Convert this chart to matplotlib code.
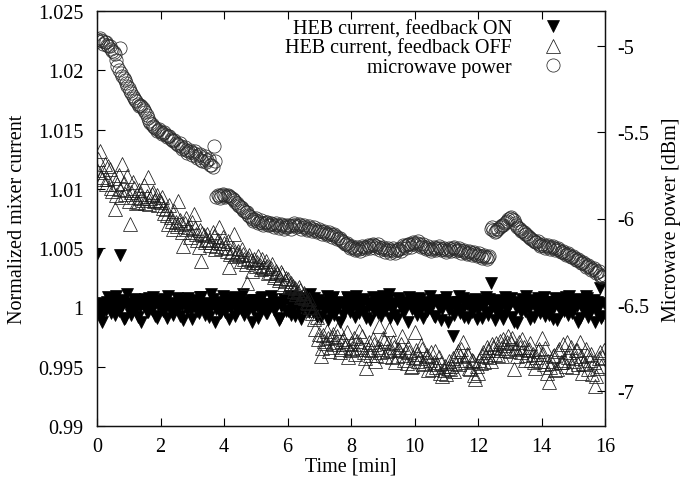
import numpy as np
import matplotlib
matplotlib.use("Agg")
import matplotlib.pyplot as plt
from matplotlib.lines import Line2D
from matplotlib.ticker import FixedLocator, FuncFormatter

plt.rcParams['font.family'] = ['Liberation Serif', 'DejaVu Serif']
plt.rcParams['axes.unicode_minus'] = False

# ---------------- data ----------------
x_ticks = [0, 2, 4, 6, 8, 10, 12, 14, 16]
y_ticks = [0.99, 0.995, 1.0, 1.005, 1.01, 1.015, 1.02, 1.025]
y2_ticks = [-7.0, -6.5, -6.0, -5.5, -5.0]

sample_step_min = 0.04

# HEB current, feedback ON  (deviation from 1, in units of 1e-4)
on_dev = [45, 2, -3, -8, -12, 4, 2, -2, 5, 9, -1, -5, 8, 1, -6, 10, 3, -3, 44, 6, 1, -10, -9, 3, 11, 0, 4, -6, -2, 7, 6, -1, -8, 5, 0, -12, 3, 2, 7, -4, -4, 8, 1, -2, 9, 4, -7, -9, 2, 6,
          5, -1, -3, 7, 0, -9, 10, 3, 4, -4, -6, 1, 2, 8, -1, -7, 6, 2, -11, 5, 3, -2, 8, 0, -2, -10, 1, 6, 4, -3, -5, 9, 9, 1, 0, -6, 2, 4, -8, -1, 11, 7, 3, -12, -1, 2, 5, -5, -4, 10,
          1, -4, 7, 3, -10, 0, 2, 9, 4, -7, -3, 5, 8, -1, 0, 11, -6, 2, 5, -3, 2, 6, -12, -2, 6, 4, 1, -9, -2, 8, 9, 0, 3, -5, -5, 3, 0, 10, 7, -2, -1, 5, 4, -11, -9, 1, 2, 7, 6, -3,
          -3, 4, 10, -6, 1, 2, -7, 9, 3, -1, 5, -10, -2, 6, 8, 0, 0, -4, 11, 3, -4, 8, 2, -8, 6, 1, -8, 5, 1, -2, 4, 10, -11, -3, 3, 7, 9, -6, -2, 2, 0, -12, 5, 4, -6, -1, 2, 9, 7, -4,
          -1, 6, 4, -8, 10, 2, -5, 0, 2, 7, 6, -3, -9, 4, 1, -11, 3, 9, -3, 1, 8, -5, 0, 3, -7, 10, 5, -2, 2, 6, 11, -9, -2, 1, 4, -6, -10, 8, 6, 0, 1, -3, -4, 5, 3, -12, 9, 2, -1, 7,
          2, -3, -6, 8, 7, 1, 0, -9, 4, 5, -3, -1, 10, 3, 1, -7, -8, 6, 5, 0, 2, -11, -1, 4, 6, 9, -12, -2, 3, 5, -24, -6, 0, 2, 5, 10, -5, -1, 8, -8, 2, 3, -9, 6, 4, -4, 1, 0, 7, -10,
          -2, 6, 5, -9, 0, 2, 9, -4, -6, 7, 21, 1, 3, -11, -3, 5, 6, 0, 1, -6, -10, 9, 4, -2, 2, 3, 8, -8, -12, 4, 0, -13, 5, 1, -4, 7, 3, -3, 10, 2, -1, -10, 6, 5, -8, 0, 2, 8, 4, -5,
          -2, 3, 9, -7, 1, 5, -6, 0, 5, -10, 0, 8, -11, 2, 3, -4, 7, 1, -3, 9, 2, -6, 10, 4, -5, -1, 4, 7, 1, -12, -9, 3, 6, -2, 0, 10, 8, -8, -4, 2, 3, 6, -12, -3, 5, 0, 16, -9, -7, 4]

# HEB current, feedback OFF (deviation from 1, in units of 1e-4)
off_dev = [116, 125, 132, 110, 108, 114, 121, 104, 108, 119, 117, 101, 98, 109, 83, 95, 104, 112, 100, 93, 121, 105, 96, 99, 111, 90, 70, 97, 106, 101, 93, 88, 89, 99, 96, 92, 91, 103, 88, 94, 110, 87, 92, 96, 97, 90, 91, 95, 86, 91,
           89, 93, 84, 80, 83, 78, 70, 86, 76, 73, 66, 81, 72, 69, 90, 74, 70, 64, 52, 71, 75, 66, 68, 59, 64, 72, 79, 67, 62, 57, 51, 65, 39, 63, 61, 55, 58, 62, 57, 53, 55, 64, 60, 49, 52, 57, 68, 54, 50, 59,
           54, 51, 48, 56, 34, 45, 47, 50, 62, 43, 46, 48, 44, 39, 49, 45, 41, 37, 21, 42, 44, 40, 31, 38, 41, 35, 38, 43, 36, 32, 41, 34, 33, 39, 35, 29, 30, 33, 37, 26, 27, 31, 29, 23, 25, 30, 28, 20, 22, 25,
           24, 17, 19, 21, 18, 14, 16, 11, 13, 17, 15, 9, 10, 12, 8, 5, 4, 7, 0, -5, -2, -10, -18, -8, -27, -22, -41, -34, -23, -28, -30, -20, -26, -37, -33, -25, -22, -31, -29, -24, -17, -38, -35, -28, -27, -33, -31, -21, -42, -36,
           -30, -34, -26, -39, -35, -28, -20, -31, -33, -24, -38, -43, -51, -35, -29, -40, -36, -27, -31, -45, -40, -33, -16, -38, -35, -26, -28, -41, -37, -30, -18, -36, -42, -29, -33, -46, -41, -35, -36, -31, -24, -40, -44, -37, -47, -33, -38, -50, -49, -42,
           -21, -36, -39, -45, -43, -32, -35, -48, -47, -41, -40, -53, -44, -38, -52, -46, -37, -50, -48, -42, -55, -47, -58, -53, -49, -56, -51, -45, -52, -49, -43, -54, -47, -40, -37, -48, -41, -35, -29, -44, -46, -39, -40, -51, -52, -44, -45, -57, -60, -49,
           -55, -44, -47, -40, -38, -46, -41, -33, -36, -42, -45, -31, -33, -39, -30, -36, -40, -28, -34, -41, -27, -32, -36, -29, -24, -37, -30, -26, -52, -34, -35, -41, -29, -33, -38, -27, -33, -44, -40, -36, -35, -30, -44, -39, -46, -51, -42, -37, -35, -45,
           -26, -39, -48, -34, -55, -45, -63, -50, -47, -41, -40, -53, -52, -37, -35, -46, -46, -31, -44, -49, -29, -42, -38, -33, -50, -45, -43, -36, -36, -48, -29, -41, -55, -47, -48, -35, -40, -52, -44, -39, -56, -46, -66, -58, -51, -43, -38, -49, -42, -36]

# microwave power [dBm], three stretches separated by level jumps
power_seg1 = [-4.960, -4.972, -4.958, -4.966, -4.975, -4.990, -4.982, -4.978, -4.995, -5.002, -5.005, -5.018, -5.030, -5.036, -5.050, -5.085, -5.120, -5.140, -5.012, -5.160,
              -5.175, -5.190, -5.200, -5.215, -5.235, -5.248, -5.265, -5.272, -5.290, -5.305, -5.315, -5.322, -5.335, -5.348, -5.345, -5.352, -5.360, -5.372, -5.385, -5.400,
              -5.420, -5.438, -5.450, -5.455, -5.465, -5.470, -5.478, -5.492, -5.488, -5.480, -5.497, -5.512, -5.505, -5.500, -5.518, -5.530, -5.525, -5.522, -5.540, -5.548,
              -5.550, -5.545, -5.562, -5.570, -5.575, -5.565, -5.583, -5.598, -5.595, -5.588, -5.605, -5.620, -5.610, -5.602, -5.618, -5.630, -5.622, -5.612, -5.640, -5.652,
              -5.632, -5.625, -5.660, -5.668, -5.648, -5.640, -5.672, -5.660, -5.655, -5.688, -5.690, -5.700, -5.578, -5.665]
power_seg2 = [-5.875, -5.862, -5.870, -5.880, -5.862, -5.858, -5.866, -5.878, -5.872, -5.864, -5.868, -5.876, -5.880, -5.888, -5.895, -5.905, -5.912, -5.920, -5.925, -5.935,
              -5.940, -5.948, -5.955, -5.962, -5.965, -5.978, -5.985, -5.992, -6.000, -6.012, -6.005, -5.998, -6.012, -6.025, -6.018, -6.010, -6.024, -6.038, -6.028, -6.018,
              -6.022, -6.040, -6.035, -6.028, -6.030, -6.048, -6.040, -6.025, -6.036, -6.055, -6.045, -6.032, -6.040, -6.058, -6.048, -6.035, -6.052, -6.040, -6.045, -6.060,
              -6.038, -6.025, -6.036, -6.052, -6.042, -6.030, -6.040, -6.058, -6.048, -6.036, -6.052, -6.065, -6.058, -6.045, -6.055, -6.070, -6.062, -6.052, -6.068, -6.080,
              -6.072, -6.060, -6.075, -6.090, -6.080, -6.070, -6.084, -6.098, -6.088, -6.078, -6.092, -6.105, -6.095, -6.088, -6.102, -6.118, -6.110, -6.115, -6.122, -6.130,
              -6.135, -6.148, -6.145, -6.140, -6.155, -6.168, -6.165, -6.158, -6.172, -6.185, -6.178, -6.165, -6.175, -6.190, -6.170, -6.160, -6.166, -6.178, -6.165, -6.152,
              -6.160, -6.172, -6.156, -6.145, -6.155, -6.168, -6.158, -6.148, -6.165, -6.180, -6.172, -6.162, -6.178, -6.192, -6.180, -6.170, -6.184, -6.198, -6.185, -6.172,
              -6.190, -6.200, -6.185, -6.175, -6.178, -6.190, -6.168, -6.155, -6.160, -6.172, -6.155, -6.145, -6.150, -6.162, -6.145, -6.135, -6.140, -6.152, -6.142, -6.130,
              -6.150, -6.162, -6.158, -6.148, -6.165, -6.178, -6.172, -6.160, -6.178, -6.190, -6.175, -6.165, -6.170, -6.182, -6.168, -6.158, -6.172, -6.185, -6.178, -6.168,
              -6.182, -6.195, -6.180, -6.170, -6.176, -6.188, -6.172, -6.162, -6.175, -6.188, -6.180, -6.170, -6.185, -6.198, -6.190, -6.182, -6.195, -6.208, -6.198, -6.188,
              -6.196, -6.210, -6.200, -6.192, -6.205, -6.215, -6.210, -6.200, -6.215, -6.228, -6.218, -6.210, -6.222, -6.235, -6.225, -6.218]
power_seg3 = [-6.062, -6.050, -6.065, -6.078, -6.070, -6.062, -6.060, -6.052, -6.045, -6.040, -6.035, -6.028, -6.022, -6.015, -6.005, -5.995, -5.993, -6.000, -6.010, -6.025,
              -6.040, -6.048, -6.055, -6.062, -6.070, -6.075, -6.080, -6.088, -6.092, -6.100, -6.105, -6.112, -6.118, -6.122, -6.128, -6.135, -6.138, -6.130, -6.145, -6.158,
              -6.152, -6.145, -6.157, -6.168, -6.160, -6.152, -6.163, -6.175, -6.166, -6.158, -6.170, -6.182, -6.178, -6.172, -6.185, -6.195, -6.192, -6.188, -6.198, -6.210,
              -6.205, -6.198, -6.212, -6.225, -6.220, -6.215, -6.228, -6.240, -6.238, -6.232, -6.248, -6.260, -6.258, -6.252, -6.266, -6.280, -6.275, -6.270, -6.283, -6.298,
              -6.290, -6.285, -6.300, -6.318, -6.312, -6.305, -6.325, -6.340, -6.335, -6.328]

labels = ["HEB current, feedback ON", "HEB current, feedback OFF", "microwave power"]

# ---------------- derived arrays ----------------
feedback_on = 1.0 + np.array(on_dev) * 1e-4
feedback_off = 1.0 + np.array(off_dev) * 1e-4
power = np.array(power_seg1 + power_seg2 + power_seg3)
t_on = np.arange(len(feedback_on)) * sample_step_min
t_off = np.arange(len(feedback_off)) * sample_step_min
t_pow = np.arange(len(power)) * sample_step_min

# ---------------- figure ----------------
W, H = 681, 485
fig = plt.figure(figsize=(W / 100, H / 100), dpi=100)
L, R, T, B = 97, 605, 12, 427
ax = fig.add_axes([L / W, 1 - B / H, (R - L) / W, (B - T) / H])
ax2 = ax.twinx()

FS = 14.5
ON_KW = dict(linestyle='none', marker='v', markersize=8.5, color='black',
             markeredgecolor='black', markeredgewidth=0.5)
OFF_KW = dict(linestyle='none', marker='^', markersize=9.5, markerfacecolor='none',
              markeredgecolor='#1a1a1a', markeredgewidth=0.55)
POW_KW = dict(linestyle='none', marker='o', markersize=9.5, markerfacecolor='none',
              markeredgecolor='#2a2a2a', markeredgewidth=0.55)

ax.plot(t_on, feedback_on, **ON_KW)
ax.plot(t_off, feedback_off, **OFF_KW)
ax2.plot(t_pow, power, **POW_KW)

ax.set_xlim(0, 16)
ax.set_ylim(0.99, 1.025)
ax2.set_ylim(-7.2, -4.8)

ax.xaxis.set_major_locator(FixedLocator(x_ticks))
ax.yaxis.set_major_locator(FixedLocator(y_ticks))
ax2.yaxis.set_major_locator(FixedLocator(y2_ticks))
fmt = FuncFormatter(lambda v, p: "%g" % round(v, 6))
ax.xaxis.set_major_formatter(fmt)
ax.yaxis.set_major_formatter(fmt)
ax2.yaxis.set_major_formatter(fmt)

ax.tick_params(axis='x', which='both', direction='in', top=True, bottom=True,
               length=6, width=0.8, labelsize=FS, pad=8)
ax.tick_params(axis='y', which='both', direction='in', left=True, right=False,
               length=6, width=0.8, labelsize=FS, pad=10)
ax2.tick_params(axis='y', which='both', direction='in', right=True, left=False,
                length=6, width=0.8, labelsize=FS, pad=9)
for a in (ax, ax2):
    for s in a.spines.values():
        s.set_linewidth(0.9)
        s.set_color('#111111')

ax.set_xlabel("Time [min]", fontsize=FS, va='center')
ax.xaxis.set_label_coords(0.5, (B - 467) / (B - T))
ax.set_ylabel("Normalized mixer current", fontsize=FS, va='center')
ax.yaxis.set_label_coords((18 - L) / (R - L), 0.5)
ax2.set_ylabel("Microwave power [dBm]", fontsize=FS, va='center', rotation=90)
ax2.yaxis.set_label_coords((672 - L) / (R - L), 0.5)

handles = [Line2D([], [], **ON_KW), Line2D([], [], **OFF_KW), Line2D([], [], **POW_KW)]
leg = ax2.legend(handles, labels, loc='upper right', markerfirst=False, frameon=False,
                 fontsize=FS, handlelength=1.0, handletextpad=1.55, labelspacing=0.02,
                 borderpad=0, borderaxespad=0,
                 bbox_to_anchor=((563 - L) / (R - L), (B - 20) / (B - T)))

fig.savefig("out.png", dpi=100)
